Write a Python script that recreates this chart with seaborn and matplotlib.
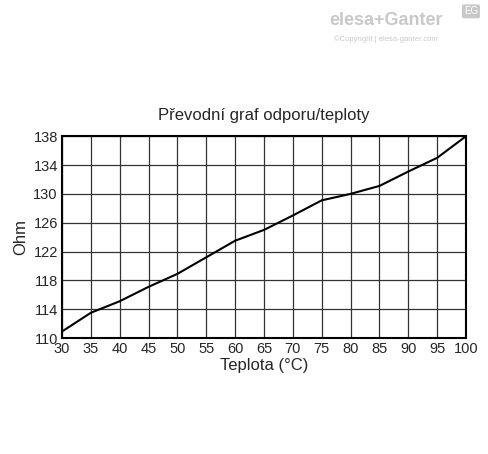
import matplotlib
matplotlib.use("Agg")
import matplotlib.pyplot as plt
import seaborn as sns
import pandas as pd

temps = [30, 35, 40, 45, 50, 55, 60, 65, 70, 75, 80, 85, 90, 95, 100]
ohms = [110.9, 113.5, 115.1, 117.1, 118.9, 121.2, 123.5, 125.0, 127.0, 129.1, 130.0, 131.1, 133.1, 135.0, 138.0]
yticks = [110, 114, 118, 122, 126, 130, 134, 138]

sns.set_style("white")
plt.rcParams['font.family'] = ['Liberation Sans', 'DejaVu Sans']
df = pd.DataFrame({"t": temps, "o": ohms})

fig = plt.figure(figsize=(4.88, 4.54), dpi=100)
ax = fig.add_axes([0.127, 0.2555, 0.828, 0.4445])
sns.lineplot(data=df, x="t", y="o", ax=ax, color="black", linewidth=1.5)
ax.set_xlim(30, 100)
ax.set_ylim(110, 138)
ax.set_xticks(temps)
ax.set_yticks(yticks)
ax.grid(True, color="#333333", linewidth=0.9)
for s in ax.spines.values():
    s.set_color("black"); s.set_linewidth(1.5)
ax.tick_params(labelsize=10.5, length=0, pad=3)
ax.set_xlabel("Teplota (°C)", fontsize=12, labelpad=1)
ax.set_ylabel("Ohm", fontsize=12, labelpad=4)
ax.set_title("Převodní graf odporu/teploty", fontsize=12, pad=12)

fig.text(0.79, 0.945, "elesa+Ganter", fontsize=13, color="#c8c8c8", ha="center", fontweight="bold")
fig.text(0.79, 0.91, "©Copyright | elesa-ganter.com", fontsize=5.5, color="#c8c8c8", ha="center")
fig.text(0.965, 0.975, "EG", fontsize=7, color="white", ha="center", va="center",
         bbox=dict(boxstyle="round,pad=0.2", fc="#c8c8c8", ec="none"))
fig.savefig("out.png", dpi=100)
